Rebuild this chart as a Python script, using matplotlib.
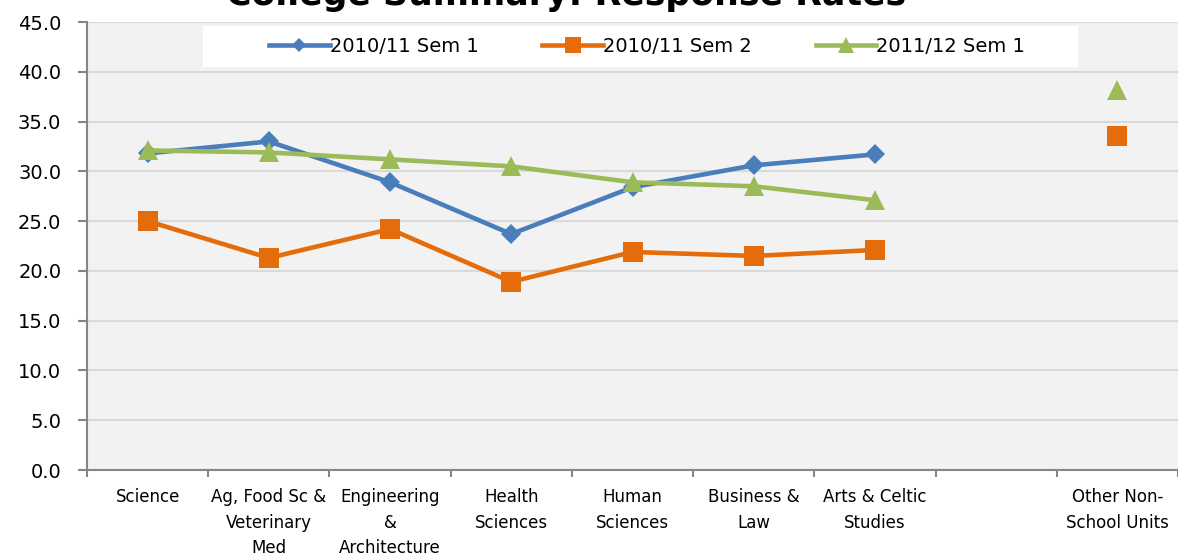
import numpy as np
import matplotlib
matplotlib.use("Agg")
import matplotlib.pyplot as plt
from matplotlib.lines import Line2D
from matplotlib.patches import Rectangle

# ---- data ----
categories = ["Science", "Ag, Food Sc &\nVeterinary\nMed", "Engineering\n&\nArchitecture",
              "Health\nSciences", "Human\nSciences", "Business &\nLaw",
              "Arts & Celtic\nStudies", "", "Other Non-\nSchool Units"]
sem1_1011 = [31.8, 33.0, 28.9, 23.7, 28.4, 30.6, 31.7, np.nan, np.nan]
sem2_1011 = [25.0, 21.3, 24.2, 18.9, 21.9, 21.5, 22.1, np.nan, 33.5]
sem1_1112 = [32.1, 31.9, 31.2, 30.5, 28.9, 28.5, 27.1, np.nan, 38.2]
series_names = ["2010/11 Sem 1", "2010/11 Sem 2", "2011/12 Sem 1"]
title = "College Summary: Response Rates"
yticks = [0, 5, 10, 15, 20, 25, 30, 35, 40, 45]

# ---- style ----
W, H = 1178, 557
fig = plt.figure(figsize=(W / 100, H / 100), dpi=100)
ax = fig.add_axes([87 / W, 1 - 470 / H, (W - 87) / W, (470 - 22) / H])
ax.set_facecolor("#F2F2F2")

colors = ["#4A7EBB", "#E46C0A", "#9BBB59"]
markers = ["D", "s", "^"]
msizes = [10.5, 14.5, 15]
x = np.arange(len(categories))
for vals, c, m, ms in zip([sem1_1011, sem2_1011, sem1_1112], colors, markers, msizes):
    ax.plot(x, vals, color=c, lw=3.3, marker=m, markersize=ms,
            markeredgewidth=0, zorder=3, solid_capstyle="round")

ax.set_xlim(-0.5, len(categories) - 0.5)
ax.set_ylim(0, 45)
ax.set_yticks(yticks)
ax.set_yticklabels([f"{v:.1f}" for v in yticks], fontsize=14)
ax.yaxis.grid(True, color="#D9D9D9", lw=1.5)
ax.set_axisbelow(True)

ax.set_xticks(np.arange(-0.5, len(categories) - 0.4, 1))
ax.set_xticklabels([])
ax.set_xticks(x, minor=True)
ax.set_xticklabels(categories, minor=True, fontsize=12, linespacing=1.55, va="top")
ax.tick_params(axis="x", which="minor", length=0, pad=13)
ax.tick_params(axis="x", which="major", length=5, width=1.5, color="#868686", direction="out")
ax.tick_params(axis="y", length=6.5, width=1.5, color="#868686", pad=12)

for s in ["top", "right"]:
    ax.spines[s].set_visible(False)
for s in ["left", "bottom"]:
    ax.spines[s].set_color("#868686")
    ax.spines[s].set_linewidth(1.5)

# legend box
x0 = (203 - 87) / (W - 87)
x1 = (1078 - 87) / (W - 87)
y0 = (470 - 67) / 448
y1 = (470 - 26) / 448
ax.add_patch(Rectangle((x0, y0), x1 - x0, y1 - y0, transform=ax.transAxes,
                       facecolor="white", edgecolor="none", zorder=4))
handles = [Line2D([], [], color=c, lw=3.3, marker=m, markersize=ms, markeredgewidth=0)
           for c, m, ms in zip(colors, markers, [7.5, 11, 11])]
leg = ax.legend(handles, series_names, loc="center", ncol=3,
                bbox_to_anchor=((x0 + x1) / 2 + 0.006, (y0 + y1) / 2), frameon=False,
                fontsize=14, handlelength=3.1, handletextpad=0.0, columnspacing=3.3)
leg.set_zorder(5)

fig.text(566 / W, 1 - 5 / H, title, ha="center", va="baseline",
         fontsize=25, fontweight="bold")

fig.savefig("out.png", dpi=100)
